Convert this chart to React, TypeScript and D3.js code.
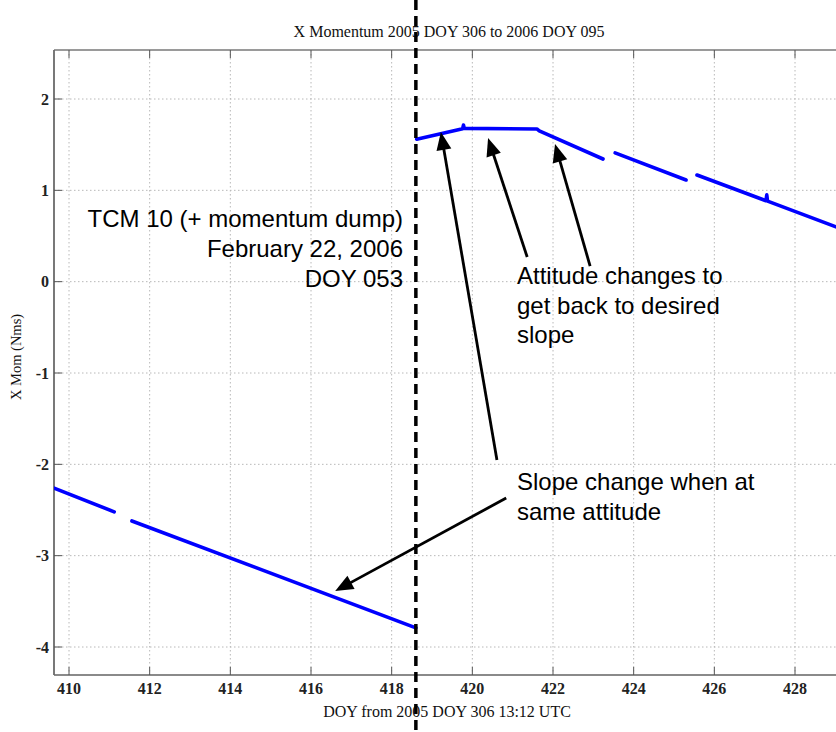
import React from 'react';
import * as d3 from 'd3';

// ---------- data ----------
const xTicks = [410, 412, 414, 416, 418, 420, 422, 424, 426, 428];
const yTicks = [-4, -3, -2, -1, 0, 1, 2];

// X momentum segments (DOY, Nms) — gaps between segments are data gaps
const seg1Days = [409.63, 411.12];
const seg1Vals = [-2.26, -2.52];
const seg2Days = [411.56, 418.6];
const seg2Vals = [-2.62, -3.79];
const seg3Days = [418.62, 419.76, 419.78, 419.8, 421.6, 421.66, 423.24];
const seg3Vals = [1.56, 1.675, 1.715, 1.678, 1.672, 1.65, 1.343];
const seg4Days = [423.54, 425.3];
const seg4Vals = [1.41, 1.113];
const seg5Days = [425.57, 427.28, 427.3, 427.32, 429.2];
const seg5Vals = [1.168, 0.886, 0.95, 0.882, 0.57];

const tcmDay = 418.6;

// annotation arrows: [tipDay, tipVal, tailDay, tailVal]
const arrowA = [420.39, 1.573, 421.36, 0.27];
const arrowB = [422.05, 1.507, 422.92, 0.171];
const arrowC = [419.22, 1.639, 420.61, -1.953];
const arrowD = [416.6, -3.387, 420.84, -2.369];

const tcmLines = ['TCM 10 (+ momentum dump)', 'February 22, 2006', 'DOY 053'];
const attLines = ['Attitude changes to', 'get back to desired', 'slope'];
const slopeLines = ['Slope change when at', 'same attitude'];

const titleText = 'X Momentum 2005 DOY 306 to 2006 DOY 095';
const xLabelText = 'DOY from 2005 DOY 306 13:12 UTC';
const yLabelText = 'X Mom (Nms)';

// ---------- layout ----------
const W = 836;
const H = 732;
const plotLeft = 54;
const plotTop = 50;
const plotBottom = 675;
const plotRight = 836;

const x = d3.scaleLinear().domain([410, 428]).range([69, 795]);
const y = d3.scaleLinear().domain([-4, 2]).range([647, 99]);

const serif = '"Liberation Serif", "Times New Roman", serif';
const sans = '"Liberation Sans", Arial, sans-serif';

function Arrow({ a }: { a: number[] }) {
  const tx = x(a[0]), ty = y(a[1]);
  const sx = x(a[2]), sy = y(a[3]);
  const ang = Math.atan2(ty - sy, tx - sx);
  const L = 18, hw = 7.5;
  const bx = tx - L * Math.cos(ang);
  const by = ty - L * Math.sin(ang);
  const px = -Math.sin(ang), py = Math.cos(ang);
  const pts = [
    [tx, ty],
    [bx + px * hw, by + py * hw],
    [bx - px * hw, by - py * hw],
  ];
  return (
    <g>
      <line x1={sx} y1={sy} x2={bx + 2 * Math.cos(ang)} y2={by + 2 * Math.sin(ang)} stroke="#000" strokeWidth={2.8} />
      <polygon points={pts.map((p) => p.join(',')).join(' ')} fill="#000" />
    </g>
  );
}

export default function App() {
  const line = d3
    .line<[number, number]>()
    .x((d) => x(d[0]))
    .y((d) => y(d[1]));
  const segs = [
    [seg1Days, seg1Vals],
    [seg2Days, seg2Vals],
    [seg3Days, seg3Vals],
    [seg4Days, seg4Vals],
    [seg5Days, seg5Vals],
  ].map(([ds, vs]) => ds.map((d, i) => [d, vs[i]] as [number, number]));

  return (
    <svg
      width={W}
      height={H}
      style={{ position: 'absolute', left: 0, top: 0, background: '#fff' }}
    >
      <rect x={0} y={0} width={W} height={H} fill="#fff" />
      <defs>
        <clipPath id="plot">
          <rect x={plotLeft} y={plotTop} width={plotRight - plotLeft} height={plotBottom - plotTop} />
        </clipPath>
      </defs>
      {/* grid */}
      {xTicks.map((t) => (
        <line key={'gx' + t} x1={x(t)} x2={x(t)} y1={plotTop} y2={plotBottom} stroke="#b8b8b8" strokeWidth={1} strokeDasharray="1.5,2.5" />
      ))}
      {yTicks.map((t) => (
        <line key={'gy' + t} x1={plotLeft} x2={plotRight} y1={y(t)} y2={y(t)} stroke="#b8b8b8" strokeWidth={1} strokeDasharray="1.5,2.5" />
      ))}
      {/* axes frame */}
      <line x1={plotLeft} x2={plotRight} y1={plotTop} y2={plotTop} stroke="#9a9a9a" strokeWidth={2} />
      <line x1={plotLeft} x2={plotRight} y1={plotBottom} y2={plotBottom} stroke="#8a8a8a" strokeWidth={2} />
      <line x1={plotLeft} x2={plotLeft} y1={plotTop} y2={plotBottom} stroke="#6a6a6a" strokeWidth={1.8} />
      {/* ticks */}
      {xTicks.map((t) => (
        <g key={'tx' + t}>
          <line x1={x(t)} x2={x(t)} y1={plotBottom} y2={plotBottom - 8} stroke="#555" strokeWidth={1} />
          <line x1={x(t)} x2={x(t)} y1={plotTop} y2={plotTop + 8} stroke="#555" strokeWidth={1} />
          <text x={x(t)} y={694} textAnchor="middle" fontFamily={serif} fontSize={16} fontWeight="bold" fill="#222">
            {t}
          </text>
        </g>
      ))}
      {yTicks.map((t) => (
        <g key={'ty' + t}>
          <line x1={plotLeft} x2={plotLeft + 8} y1={y(t)} y2={y(t)} stroke="#555" strokeWidth={1} />
          <text x={49} y={y(t) + 5.5} textAnchor="end" fontFamily={serif} fontSize={16} fontWeight="bold" fill="#222">
            {t}
          </text>
        </g>
      ))}
      {/* data */}
      <g clipPath="url(#plot)">
        {segs.map((s, i) => (
          <path key={'s' + i} d={line(s) || ''} fill="none" stroke="#0000ff" strokeWidth={3.6} strokeLinecap="round" strokeLinejoin="round" />
        ))}
      </g>
      {/* titles */}
      <text x={449} y={37} textAnchor="middle" fontFamily={serif} fontSize={16} fill="#111">
        {titleText}
      </text>
      <text x={447} y={717} textAnchor="middle" fontFamily={serif} fontSize={16} fill="#111">
        {xLabelText}
      </text>
      <text transform={`translate(21,357) rotate(-90)`} textAnchor="middle" fontFamily={serif} fontSize={14.5} fill="#111">
        {yLabelText}
      </text>
      {/* annotations */}
      {tcmLines.map((s, i) => (
        <text key={'tcm' + i} x={403} y={227 + i * 30} textAnchor="end" fontFamily={sans} fontSize={24} fill="#000">
          {s}
        </text>
      ))}
      {attLines.map((s, i) => (
        <text key={'att' + i} x={517} y={284 + i * 29.5} fontFamily={sans} fontSize={24} fill="#000">
          {s}
        </text>
      ))}
      {slopeLines.map((s, i) => (
        <text key={'sl' + i} x={517} y={490 + i * 30} fontFamily={sans} fontSize={24} fill="#000">
          {s}
        </text>
      ))}
      <Arrow a={arrowA} />
      <Arrow a={arrowB} />
      <Arrow a={arrowC} />
      <Arrow a={arrowD} />
      {/* TCM dashed marker */}
      <line x1={x(tcmDay)} x2={x(tcmDay)} y1={0} y2={H} stroke="#000" strokeWidth={3.5} strokeDasharray="10,6" />
    </svg>
  );
}
